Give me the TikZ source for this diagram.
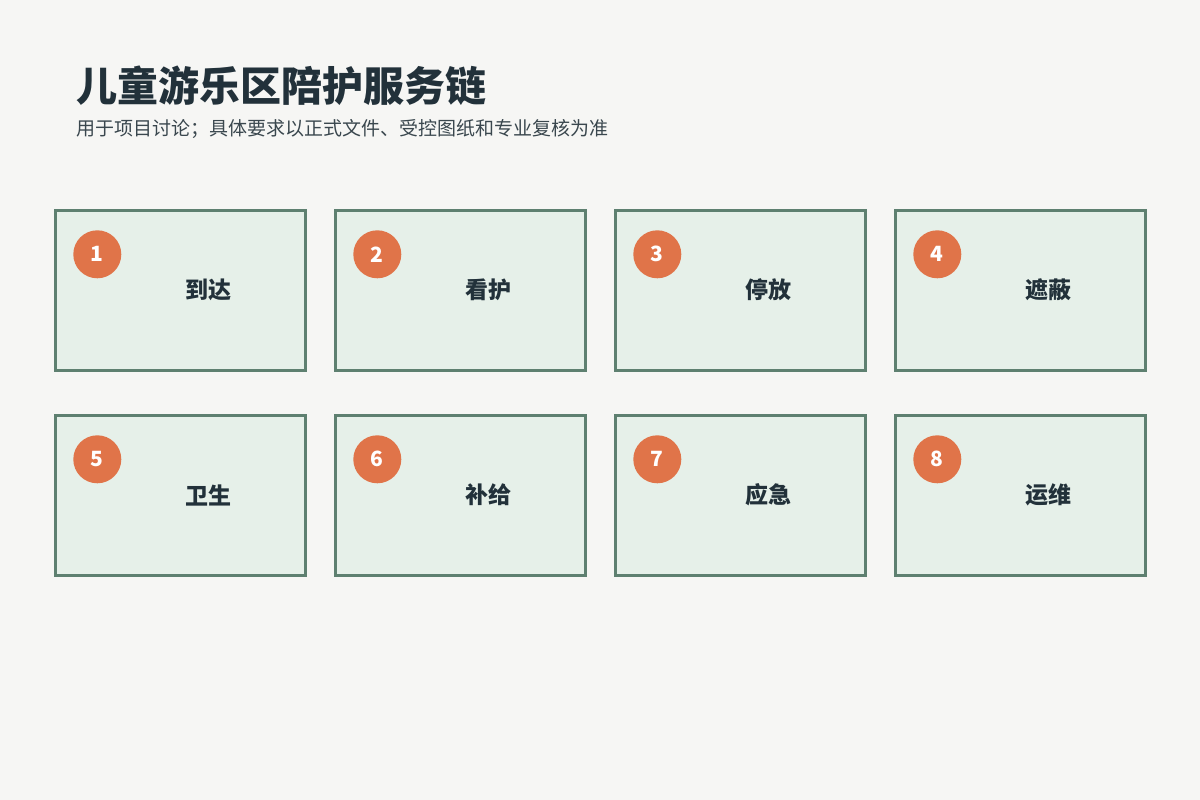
\documentclass[tikz,border=0pt]{standalone}
\usepackage{fontspec}
\setmainfont{Noto Sans CJK SC}
\newfontfamily\cjk{Noto Sans CJK SC}
\definecolor{bgc}{HTML}{F6F6F4}
\definecolor{boxfill}{HTML}{E6F0E9}
\definecolor{boxline}{HTML}{5E8070}
\definecolor{badge}{HTML}{E07449}
\definecolor{ink}{HTML}{22313A}
\definecolor{subink}{HTML}{3A474E}
\tikzset{
  card/.style={draw=boxline, line width=3pt, fill=boxfill, minimum width=250pt, minimum height=160pt, inner sep=0pt, outer sep=0pt, anchor=north west},
  badgec/.style={circle, fill=badge, minimum size=48pt, inner sep=0pt, text=white, font=\cjk\bfseries\fontsize{21pt}{21pt}\selectfont},
  lbl/.style={text=ink, font=\cjk\bfseries\fontsize{23pt}{23pt}\selectfont, inner sep=0pt},
}
\begin{document}
\begin{tikzpicture}[x=1pt,y=-1pt]
\fill[bgc] (0,0) rectangle (1200,800);
\useasboundingbox (0,0) rectangle (1200,800);
\node[anchor=base west, text=ink, font=\cjk\bfseries\fontsize{41pt}{41pt}\selectfont, inner sep=0pt] (title) at (76,101) {儿童游乐区陪护服务链};
\node[anchor=base west, text=subink, font=\cjk\fontsize{19pt}{19pt}\selectfont, inner sep=0pt] (sub) at (76,135) {用于项目讨论；具体要求以正式文件、受控图纸和专业复核为准};
\foreach \i/\x/\y/\t in {1/55.5/210.5/到达,2/335.5/210.5/看护,3/615.5/210.5/停放,4/895.5/210.5/遮蔽,5/55.5/415.5/卫生,6/335.5/415.5/补给,7/615.5/415.5/应急,8/895.5/415.5/运维}{
  \node[card] (c\i) at (\x,\y) {};
  \node[badgec] (b\i) at (\x+41.8,\y+43.8) {\i};
  \node[lbl] (l\i) at (\x+152.5,\y+79.5) {\t};
}
\end{tikzpicture}
\end{document}
